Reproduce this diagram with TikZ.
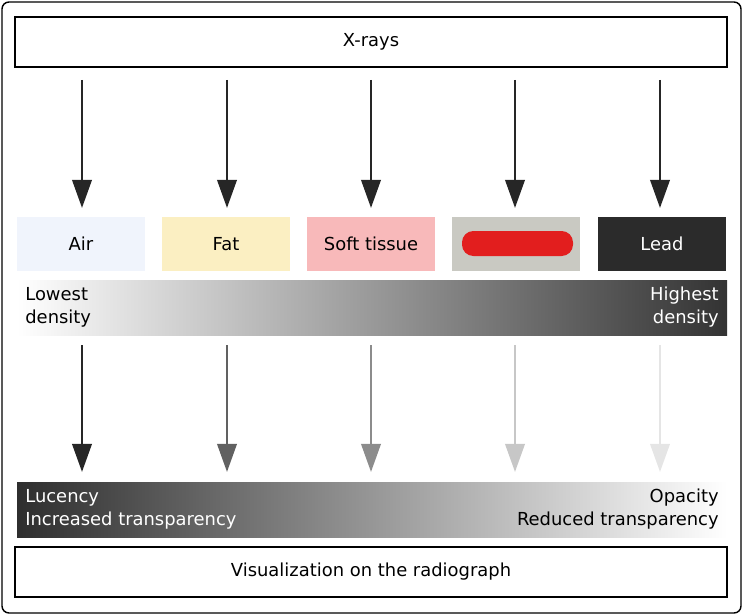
\documentclass[tikz,border=0pt]{standalone}
\usepackage{fontspec}
\setmainfont{DejaVu Sans}
\usetikzlibrary{arrows.meta}
\definecolor{airfill}{HTML}{F0F4FC}
\definecolor{fatfill}{HTML}{FBEFC2}
\definecolor{softfill}{HTML}{F8B9BA}
\definecolor{bonefill}{HTML}{C9C9C2}
\definecolor{leadfill}{HTML}{2B2B2B}
\definecolor{blob}{HTML}{E21E1E}
\tikzset{>={Triangle[length=16pt,width=11pt]}}
\begin{document}
\begin{tikzpicture}[x=0.02cm,y=-0.02cm,font=\fontsize{10.2}{13}\selectfont]
  % frames and bars
  \tikzstyle{framebox}=[draw=black, thick, fill=white, minimum width=14.24cm, minimum height=1cm]
  \tikzstyle{tissue}=[minimum width=2.56cm, minimum height=1.1cm, inner sep=0pt]
  \tikzstyle{ray}=[->, line width=1.6pt]
  \useasboundingbox (0,0) rectangle (743,615);
  \draw[thick, rounded corners=4pt] (2,2) rectangle (741,613);
  \node[framebox] (xrays) at (371,42) {X-rays};
  \node[framebox] (visual) at (371,572) {Visualization on the radiograph};
  \node[tissue, fill=airfill] (air) at (81,244) {Air};
  \node[tissue, fill=fatfill] (fat) at (226,244) {Fat};
  \node[tissue, fill=softfill] (soft) at (371,244) {Soft tissue};
  \node[tissue, fill=bonefill] (bone) at (516,244) {};
  \node[tissue, fill=leadfill, text=white] (lead) at (662,244) {Lead};
  \fill[blob, rounded corners=6.5pt] (462,231) rectangle (573,256);
  % density bar
  \shade[left color=white, right color=black!80] (17,280) rectangle (727,335);
  \node[anchor=north west, align=left, inner sep=0pt] (low) at (25,287) {Lowest\\density};
  \node[anchor=north east, align=right, inner sep=0pt, text=white] (high) at (719,287) {Highest\\density};
  % visibility bar
  \shade[left color=black!82, right color=white] (17,482) rectangle (727,537);
  \node[anchor=north west, align=left, inner sep=0pt, text=white] (luc) at (25,489) {Lucency\\Increased transparency};
  \node[anchor=north east, align=right, inner sep=0pt] (opa) at (719,489) {Opacity\\Reduced transparency};
  % arrows
  \foreach \x in {82,227,371,515,660}
    \draw[ray, black!85] (\x,80) -- (\x,208);
  \foreach \x/\c in {82/85,227/62,371/45,515/22,660/10}
    \draw[ray, black!\c] (\x,345) -- (\x,472);
\end{tikzpicture}
\end{document}
